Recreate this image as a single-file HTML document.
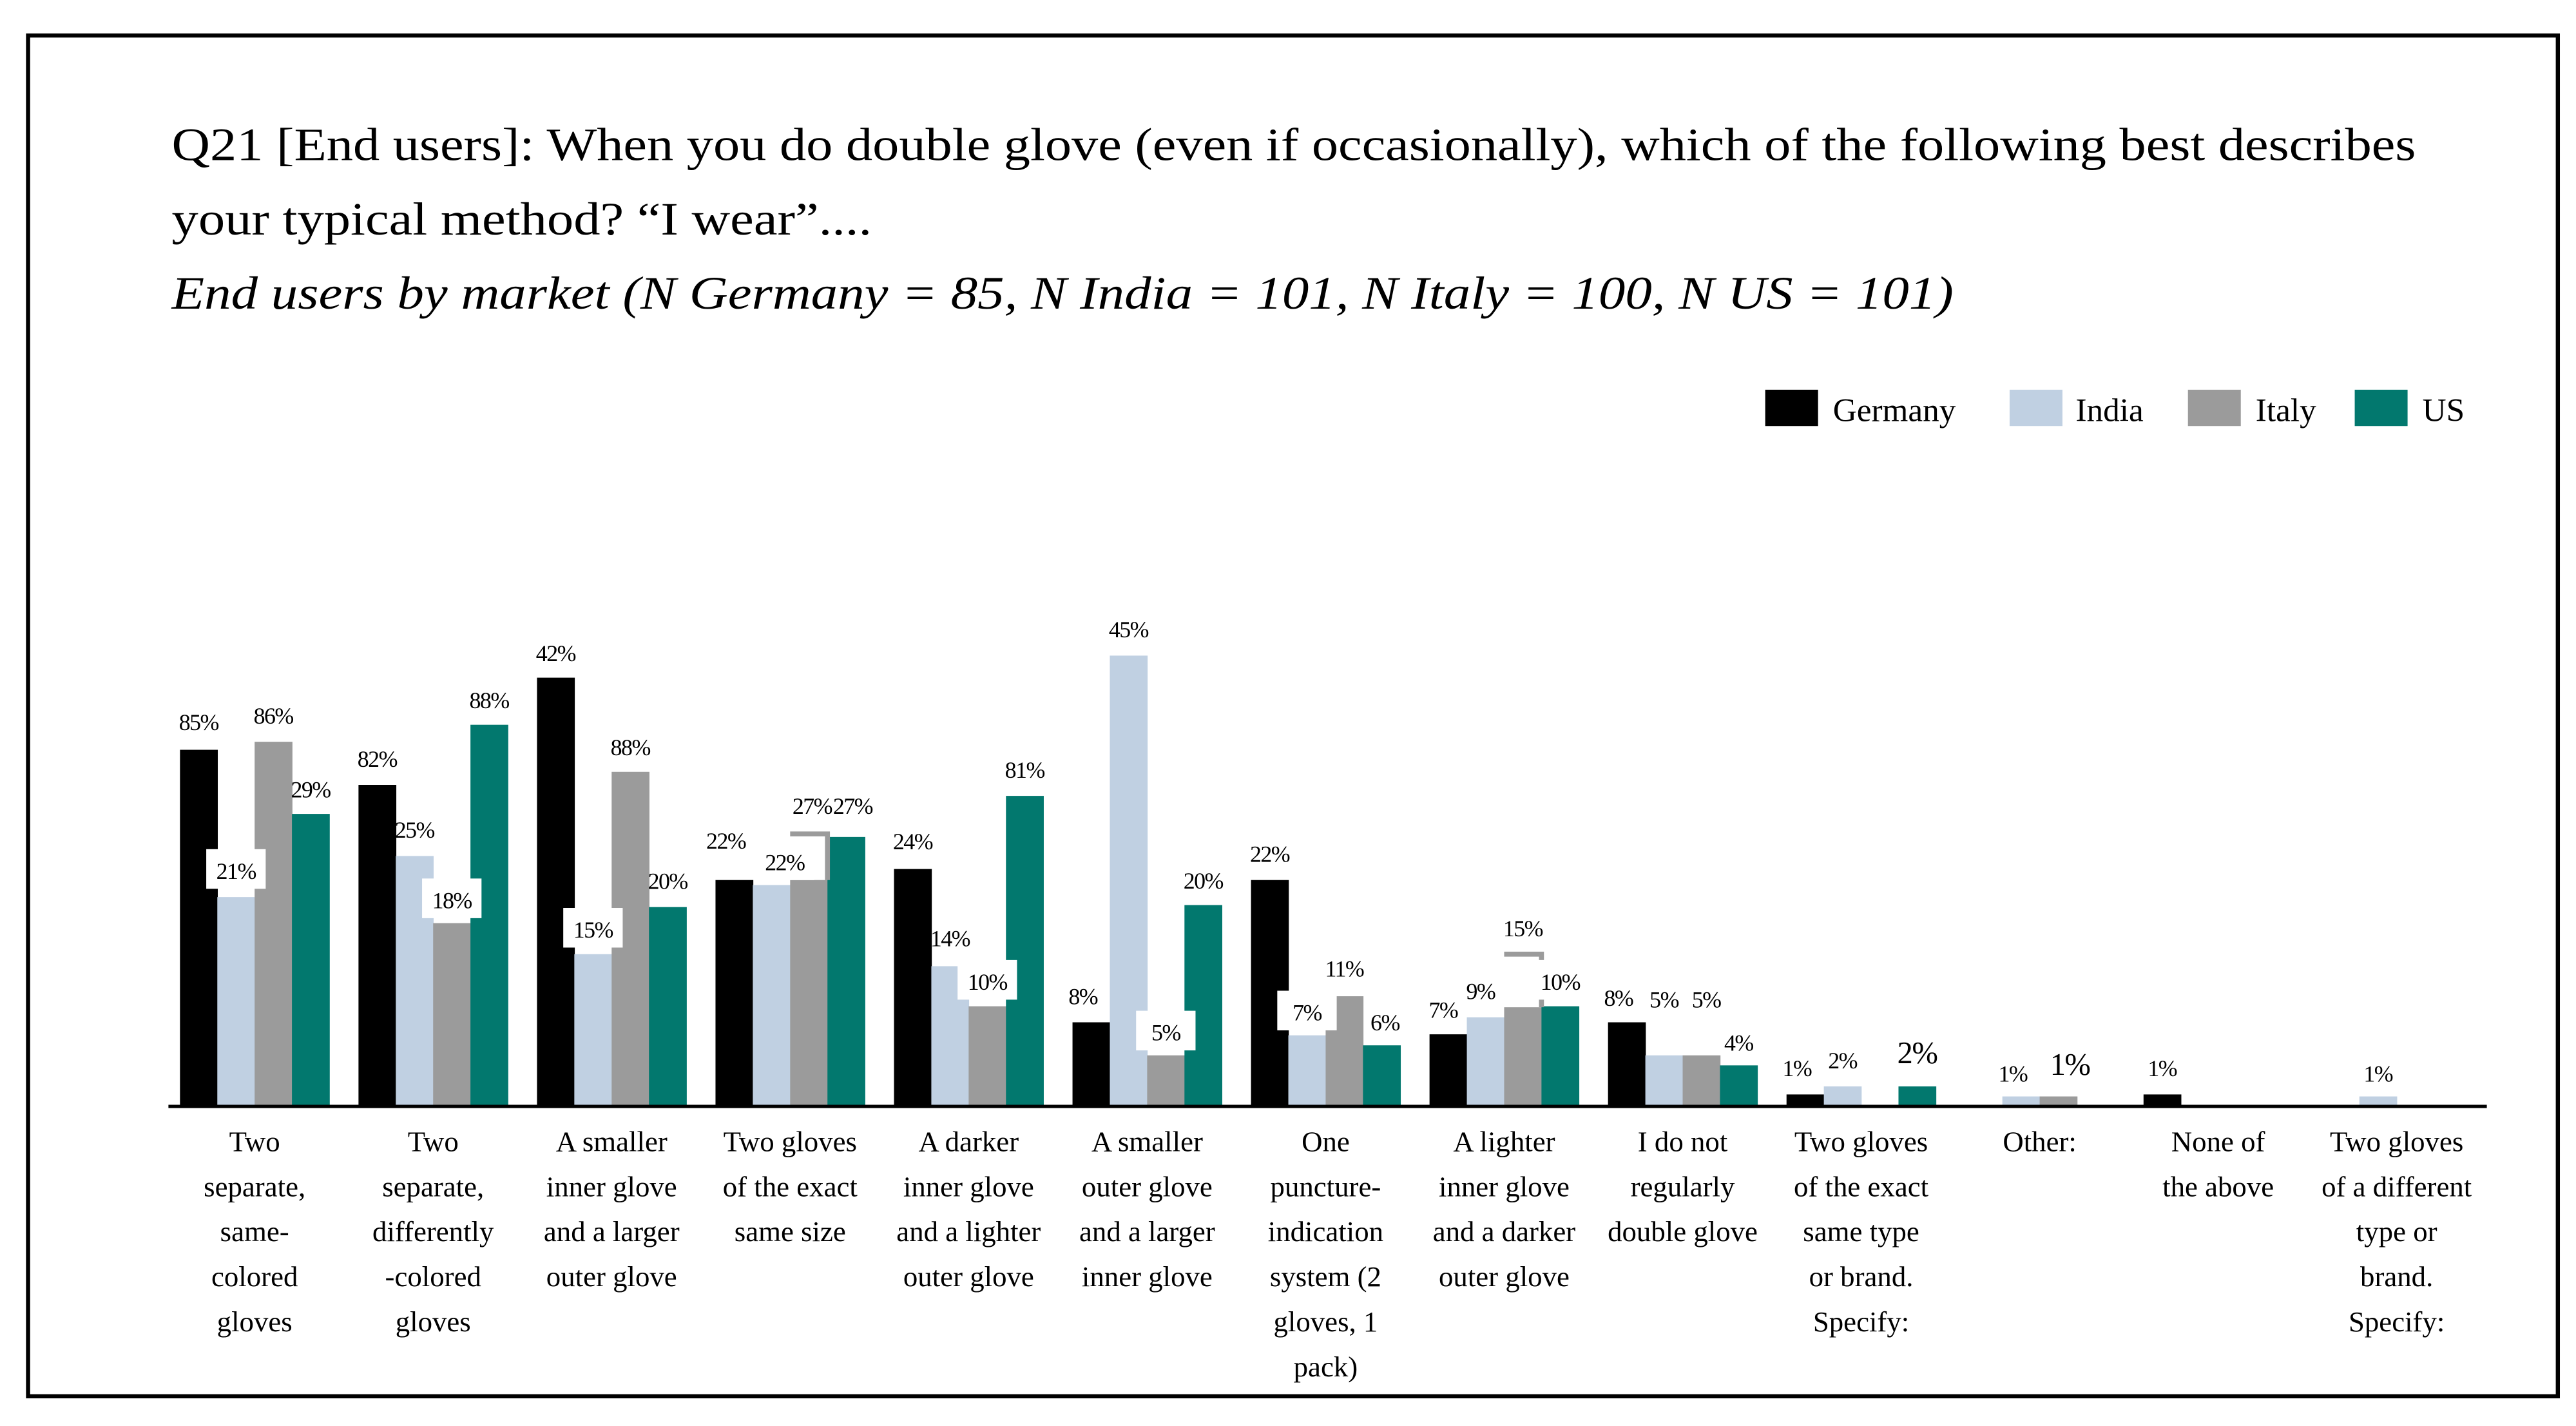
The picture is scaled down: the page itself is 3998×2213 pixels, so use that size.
<!DOCTYPE html>
<html><head><meta charset="utf-8"><style>
html,body{margin:0;padding:0;background:#fff;width:3998px;height:2213px;overflow:hidden}
svg{display:block;font-family:"Liberation Serif",serif}
</style></head><body>
<svg id="chart" width="3998" height="2213" viewBox="0 0 1560 863.5" preserveAspectRatio="none" xmlns="http://www.w3.org/2000/svg">
<rect x="17" y="21.5" width="1532" height="824" fill="none" stroke="#000" stroke-width="2.5"/>
<text x="104" y="97" font-size="28" textLength="1359" lengthAdjust="spacingAndGlyphs">Q21 [End users]: When you do double glove (even if occasionally), which of the following best describes</text>
<text x="104" y="142" font-size="28" textLength="424" lengthAdjust="spacingAndGlyphs">your typical method? “I wear”....</text>
<text x="104" y="187" font-size="28" font-style="italic" textLength="1079" lengthAdjust="spacingAndGlyphs">End users by market (N Germany = 85, N India = 101, N Italy = 100, N US = 101)</text>
<g>
<rect x="1069" y="236" width="32" height="22" fill="#000"/>
<text x="1110" y="255" font-size="20">Germany</text>
<rect x="1217" y="236" width="32" height="22" fill="#c0d0e2"/>
<text x="1257" y="255" font-size="20">India</text>
<rect x="1325" y="236" width="32" height="22" fill="#9b9b9b"/>
<text x="1366" y="255" font-size="20">Italy</text>
<rect x="1426" y="236" width="32" height="22" fill="#02786e"/>
<text x="1467" y="255" font-size="20">US</text>
</g>
<g id="bars"></g>
<g id="labels"></g>
<line x1="102" y1="670" x2="1506" y2="670" stroke="#000" stroke-width="2"/>
<g id="cats"></g>
</svg>
<script>
const categories = [
 ["Two","separate,","same-","colored","gloves"],
 ["Two","separate,","differently","-colored","gloves"],
 ["A smaller","inner glove","and a larger","outer glove"],
 ["Two gloves","of the exact","same size"],
 ["A darker","inner glove","and a lighter","outer glove"],
 ["A smaller","outer glove","and a larger","inner glove"],
 ["One","puncture-","indication","system (2","gloves, 1","pack)"],
 ["A lighter","inner glove","and a darker","outer glove"],
 ["I do not","regularly","double glove"],
 ["Two gloves","of the exact","same type","or brand.","Specify:"],
 ["Other:"],
 ["None of","the above"],
 ["Two gloves","of a different","type or","brand.","Specify:"]
];
const germany = [35.6,32.1,42.8,22.6,23.7,8.4,22.6,7.2,8.4,1.2,0,1.2,0];
const india   = [20.9,25.0,15.2,22.1,14.0,45.0,7.1,8.9,5.1,2.0,1.0,0,1.0];
const italy   = [36.4,18.3,33.4,22.6,10.0,5.1,11.0,9.9,5.1,0,1.0,0,0];
const us      = [29.2,38.1,19.9,26.9,31.0,20.1,6.1,10.0,4.1,2.0,0,0,0];
const italyCaps = [null,null,null,27.2,null,null,null,15.2,null,null,null,null,null];
const germanyLabels = ["85%","82%","42%","22%","24%","8%","22%","7%","8%","1%","","1%",""];
const indiaLabels   = ["21%","25%","15%","22%","14%","45%","7%","9%","5%","2%","1%","",  "1%"];
const italyLabels   = ["86%","18%","88%","27%","10%","5%","11%","15%","5%","","1%","",""];
const usLabels      = ["29%","88%","20%","27%","81%","20%","6%","10%","4%","2%","","",""];
const seriesNames = ["germany","india","italy","us"];
const series = [germany,india,italy,us];
const labels = [germanyLabels,indiaLabels,italyLabels,usLabels];
const colors = ["#000","#c0d0e2","#9b9b9b","#02786e"];
// label placement: [dx, dy above bar top, boxed]
const place = {
 "0-1":[0,16,1],"1-2":[0,14,1],"2-1":[0,15,1],"3-1":[8,14,1],"3-2":[2,45,0],
 "4-2":[0,15,1],"5-2":[0,14,1],"6-1":[0,14,1],"7-3":[0,15,1],
 "0-0":[0,17,0],"0-2":[0,16,0],"0-3":[0,15,0],"1-0":[0,16,0],"1-3":[0,15,0],
 "2-0":[0,15,0],"2-2":[0,15,0],"2-3":[0,16,0],"3-0":[-5,24,0],"3-3":[4,19,0],
 "4-0":[0,17,0],"4-1":[0,17,0],"4-3":[0,16,0],"5-0":[-5,16,0],"5-1":[0,16,0],"5-3":[0,15,0],
 "6-0":[0,16,0],"6-2":[0,17,0],"6-3":[2,14,0],"7-0":[-3,15,0],"7-1":[-3,16,0],"7-2":[0,48,0],
 "8-0":[-5,15,0],"8-1":[0,34,0],"8-2":[3,34,0],"8-3":[0,14,0],
 "9-0":[-5,16,0],"9-1":[0,16,0],"9-3":[0,19,0],"10-1":[-5,14,0],"10-2":[7,18,0],
 "11-0":[0,16,0],"12-1":[0,14,0]
};
const big = {"9-3":1,"10-2":1};
const plotLeft = 109, groupStep = 108.1, barW = 22.6, baseY = 670, pxPerUnit = 273/45;
const xPos = (g,s) => plotLeft + g*groupStep + s*barW;
const yPos = v => baseY - v*pxPerUnit;
const NS = "http://www.w3.org/2000/svg";
const barsG = document.getElementById("bars"), labG = document.getElementById("labels"), catG = document.getElementById("cats");
categories.forEach((cat,g)=>{
  series.forEach((arr,s)=>{
    const v = arr[g];
    if(v>0){
      const r = document.createElementNS(NS,"rect");
      r.setAttribute("x",xPos(g,s)); r.setAttribute("y",yPos(v));
      r.setAttribute("width",barW+0.3); r.setAttribute("height",baseY-yPos(v));
      r.setAttribute("fill",colors[s]);
      
      
      barsG.appendChild(r);
    }
  });
  if(italyCaps[g]!=null){
    const c = document.createElementNS(NS,"path");
    const x0 = xPos(g,2), y = yPos(italyCaps[g]);
    c.setAttribute("d",`M${x0} ${y}H${x0+barW}V${yPos(italy[g])}`);
    c.setAttribute("stroke","#9b9b9b"); c.setAttribute("stroke-width","3"); c.setAttribute("fill","none");
    
    
    barsG.appendChild(c);
  }
  labels.forEach((arr,s)=>{
    const t = arr[g]; if(!t) return;
    const p = place[g+"-"+s] || [0,16,0];
    const cx = xPos(g,s)+barW/2+p[0], cy = yPos(series[s][g]) - p[1];
    const fs = big[g+"-"+s] ? 19 : 14;
    if(p[2]){
      const b = document.createElementNS(NS,"rect");
      b.setAttribute("x",cx-18); b.setAttribute("y",cy-13); b.setAttribute("width",36); b.setAttribute("height",24);
      b.setAttribute("fill","#fff");
      
      
      labG.appendChild(b);
    }
    const tx = document.createElementNS(NS,"text");
    tx.setAttribute("x",cx); tx.setAttribute("y",cy+5);
    tx.setAttribute("text-anchor","middle"); tx.setAttribute("font-size",fs);
    tx.setAttribute("letter-spacing","-0.6");
    tx.textContent = t;
    
    
    labG.appendChild(tx);
  });
  const cx = plotLeft + g*groupStep + 2*barW;
  cat.forEach((line,i)=>{
    const tx = document.createElementNS(NS,"text");
    tx.setAttribute("x",cx); tx.setAttribute("y",697+i*27.3);
    tx.setAttribute("text-anchor","middle"); tx.setAttribute("font-size","17.5");
    tx.textContent = line;
    
    
    catG.appendChild(tx);
  });
});
</script>
</body></html>
